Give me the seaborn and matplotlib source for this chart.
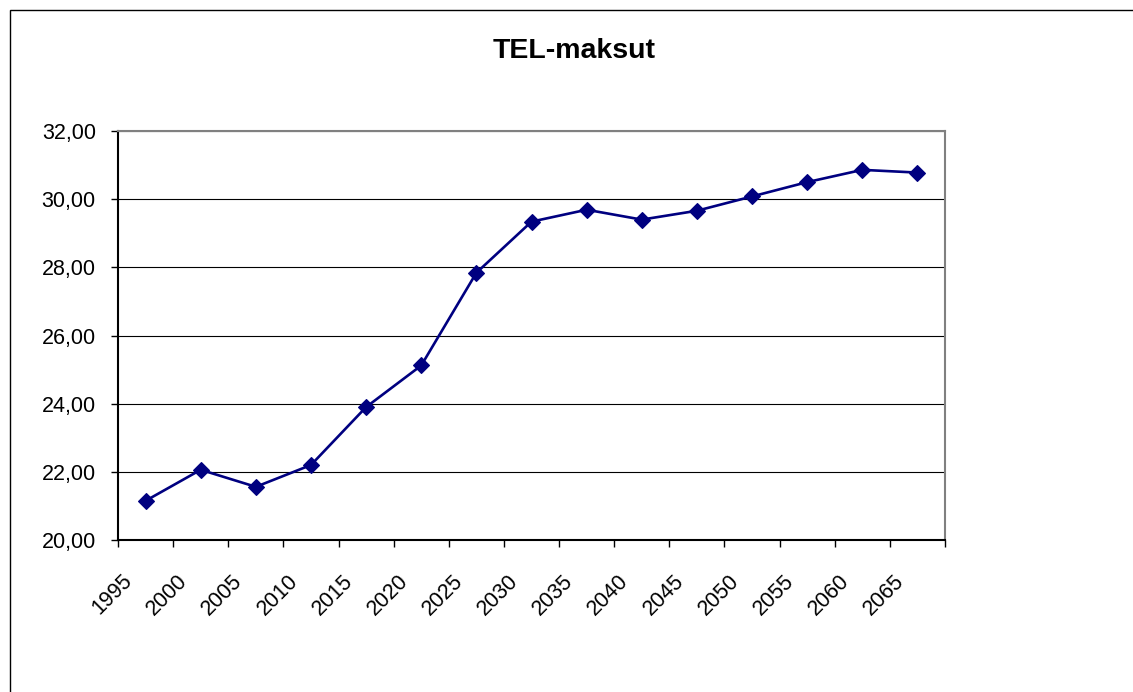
import numpy as np
import pandas as pd
import matplotlib
matplotlib.use("Agg")
import matplotlib.pyplot as plt
import matplotlib.transforms as mtransforms
import seaborn as sns
from matplotlib.ticker import FuncFormatter, FixedLocator, NullFormatter
from matplotlib.patches import Rectangle

years = ["1995", "2000", "2005", "2010", "2015", "2020", "2025", "2030",
         "2035", "2040", "2045", "2050", "2055", "2060", "2065"]
tel_maksut = [21.15, 22.06, 21.56, 22.20, 23.90, 25.12, 27.84, 29.34,
              29.69, 29.40, 29.66, 30.08, 30.50, 30.86, 30.78]
y_ticks = [20, 22, 24, 26, 28, 30, 32]

df = pd.DataFrame({"vuosi": years, "maksu": tel_maksut})

sns.set_style("white")
plt.rcParams["font.family"] = ["Liberation Sans", "DejaVu Sans"]
plt.rcParams["text.color"] = "black"
plt.rcParams["xtick.color"] = "black"
plt.rcParams["ytick.color"] = "black"

fig = plt.figure(figsize=(11.33, 6.92), dpi=100)
ax = fig.add_axes([118 / 1133, 1 - 540 / 692, (945 - 118) / 1133, (540 - 131) / 692])

sns.lineplot(data=df, x="vuosi", y="maksu", ax=ax, sort=False,
             color="#000080", linewidth=1.9, marker="D", markersize=8.5,
             markeredgecolor="#000080", markeredgewidth=0.8)

ax.set_xlim(-0.5, len(years) - 0.5)
ax.set_ylim(20, 32)
ax.set_yticks(y_ticks)
ax.yaxis.set_major_formatter(FuncFormatter(lambda v, p: f"{v:.2f}".replace(".", ",")))
ax.tick_params(axis="y", length=5, width=1, labelsize=15.5, pad=11, direction="out", left=True)

# category labels in the middle, tick marks between categories
ax.set_xticks(range(len(years)))
ax.set_xticklabels(years, rotation=45, ha="right", va="top")
ax.tick_params(axis="x", which="major", length=0, labelsize=15.5, pad=22)
ax.xaxis.set_minor_locator(FixedLocator(np.arange(-0.5, len(years), 1.0)))
ax.xaxis.set_minor_formatter(NullFormatter())
ax.tick_params(axis="x", which="minor", length=5, width=1, direction="out", bottom=True)
shift = mtransforms.ScaledTranslation(-9 / 100, 0, fig.dpi_scale_trans)
for lab in ax.get_xticklabels():
    lab.set_transform(lab.get_transform() + shift)

ax.grid(axis="y", color="black", linewidth=0.8)
ax.set_axisbelow(True)
ax.set_xlabel("")
ax.set_ylabel("")

for side in ["top", "right"]:
    ax.spines[side].set_color("#808080")
    ax.spines[side].set_linewidth(1.5)
for side in ["left", "bottom"]:
    ax.spines[side].set_color("black")
    ax.spines[side].set_linewidth(1.5)

fig.text(574 / 1133, 1 - 58 / 692, "TEL-maksut", ha="center", va="baseline",
         fontsize=20.5, fontweight="bold")

# chart area border
fig.patches.append(Rectangle((10 / 1133, -0.1), 1.2, 1 - 10 / 692 + 0.1,
                             transform=fig.transFigure, fill=False,
                             edgecolor="black", linewidth=1))

fig.savefig("out.png", dpi=100)
